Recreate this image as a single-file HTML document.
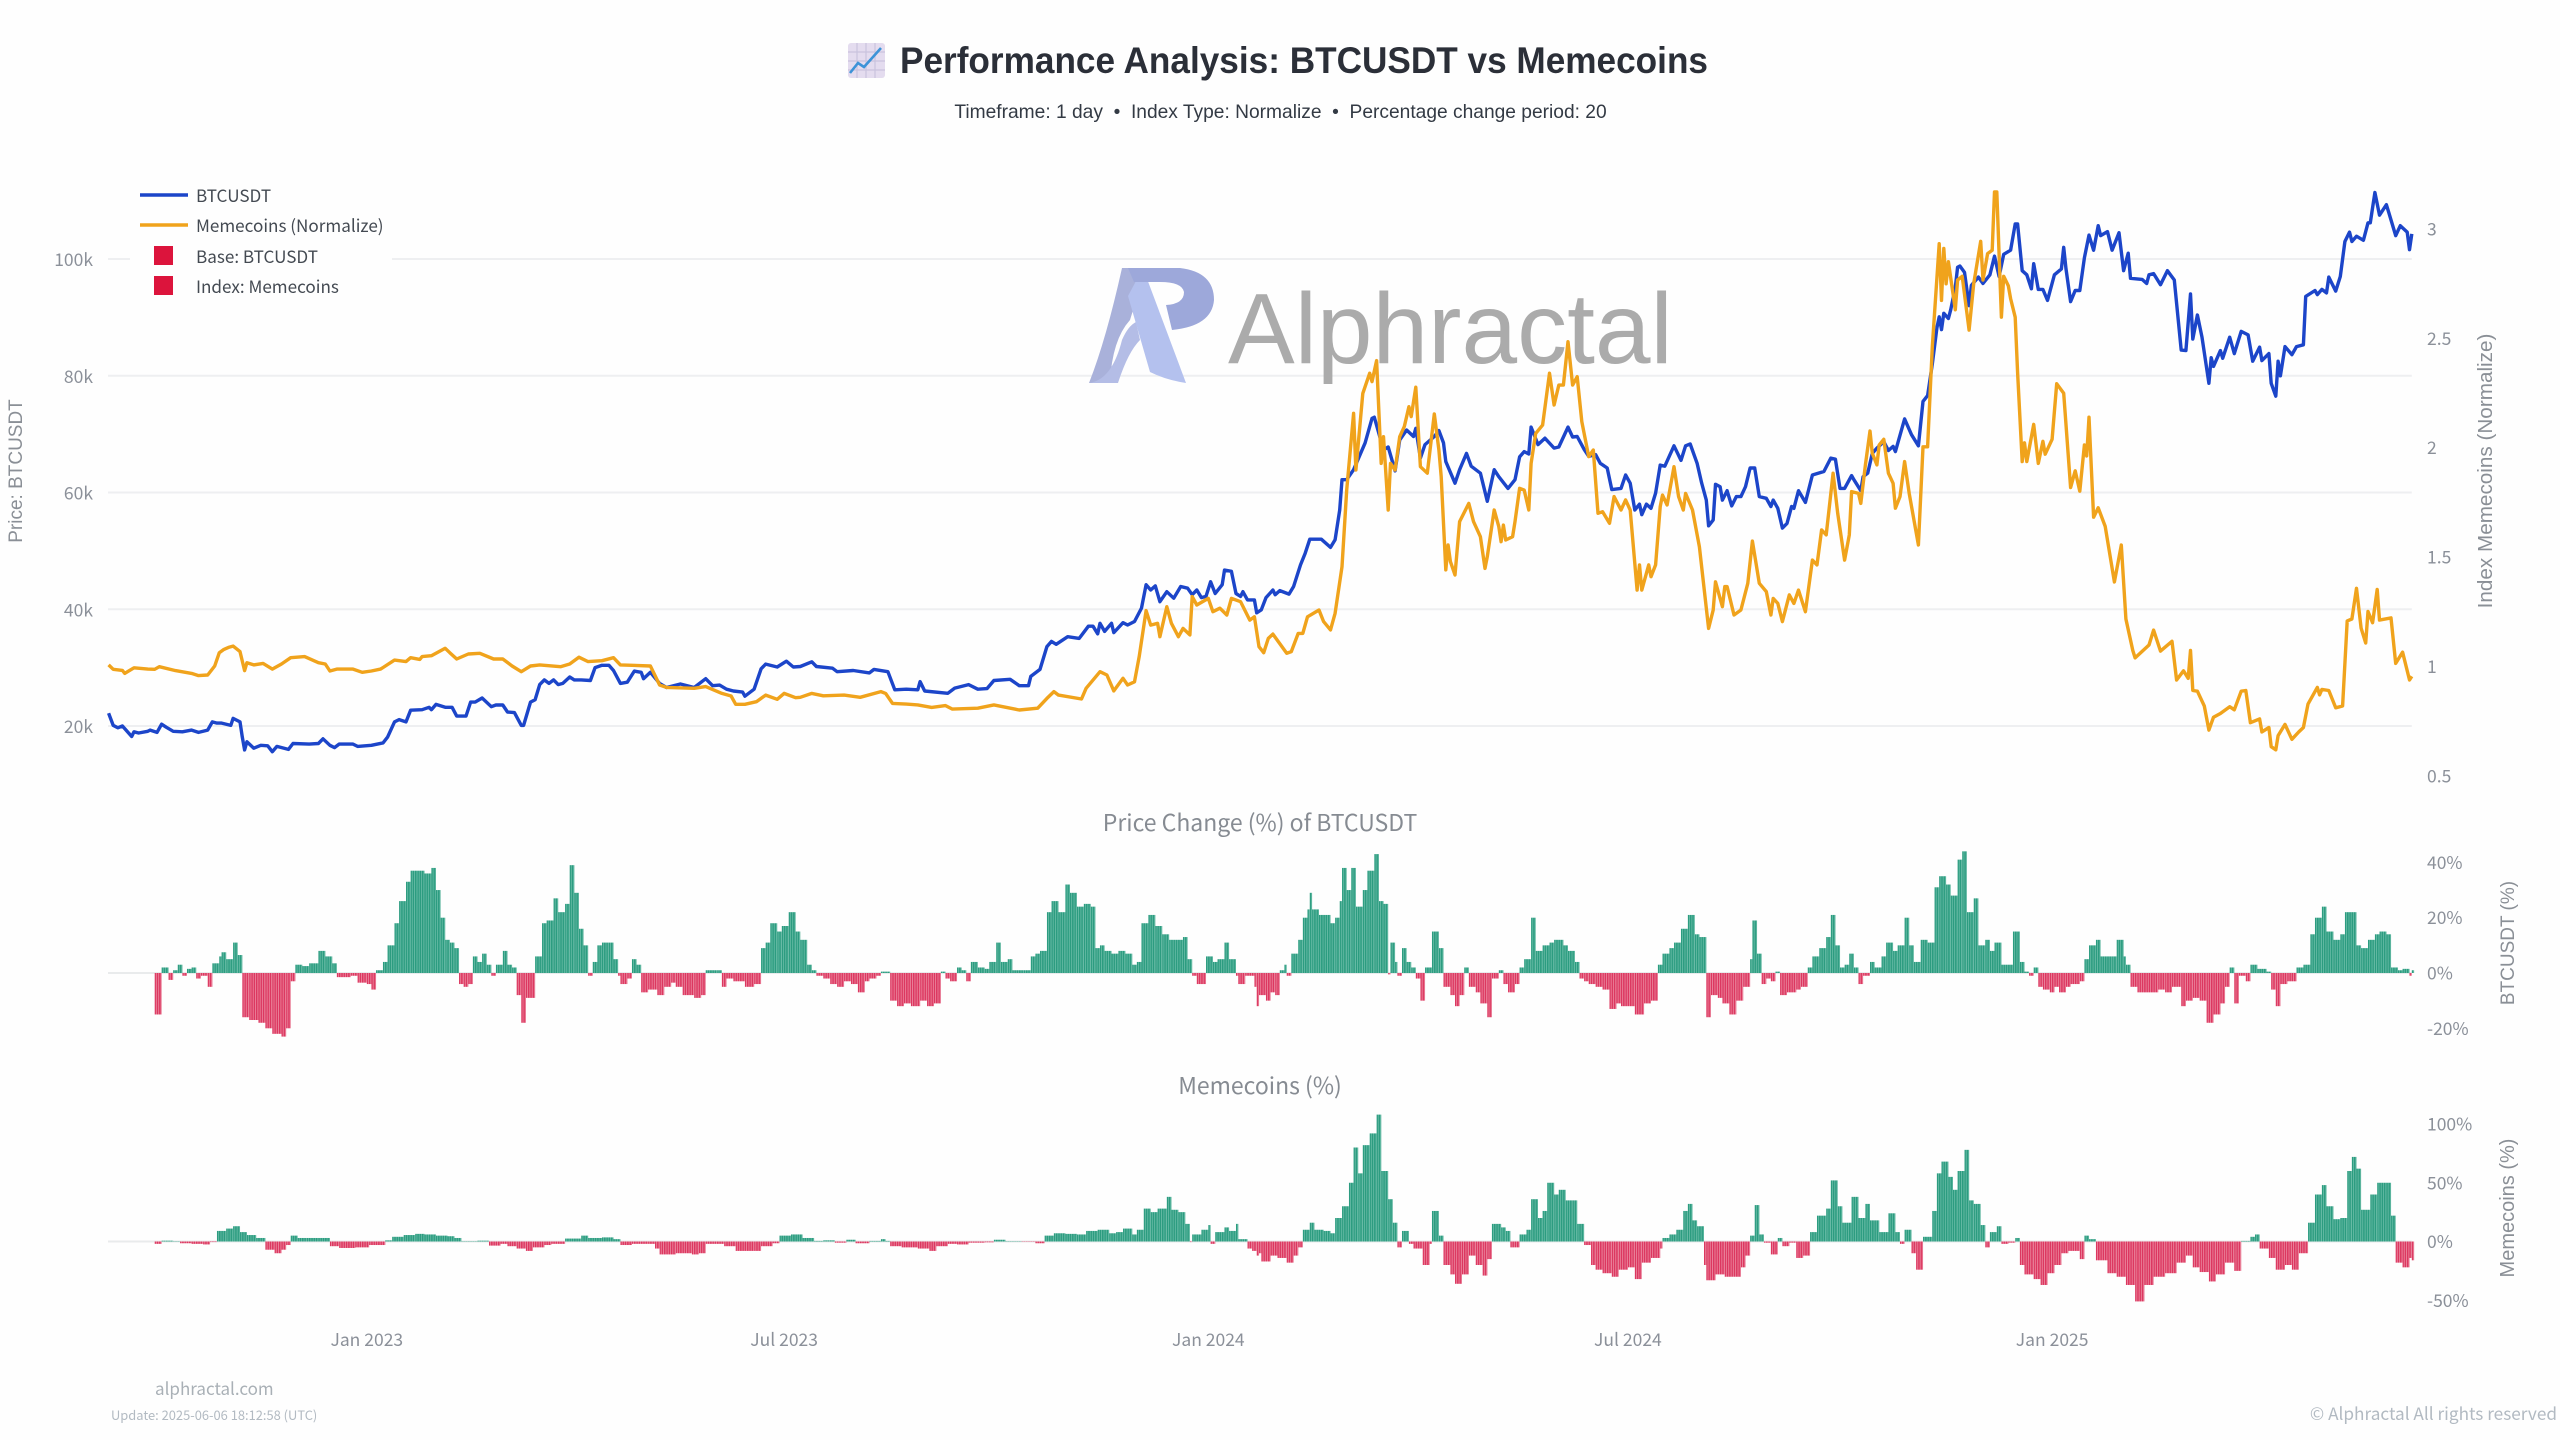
<!DOCTYPE html>
<html lang="en">
<head>
<meta charset="utf-8">
<title>Performance Analysis: BTCUSDT vs Memecoins</title>
<style>
html,body{margin:0;padding:0;background:#fefefe;width:2560px;height:1440px;overflow:hidden}
svg{display:block}
.sans{font-family:"Liberation Sans",sans-serif}
.noto{font-family:"Noto Sans CJK JP","Liberation Sans",sans-serif}
.tick{font-family:"Noto Sans CJK JP","Liberation Sans",sans-serif;font-size:17.5px;fill:#8b9099}
</style>
</head>
<body>
<svg id="chart" width="2560" height="1440" viewBox="0 0 2560 1440" xmlns="http://www.w3.org/2000/svg">
<defs>
<pattern id="green-stripes" patternUnits="userSpaceOnUse" width="2.3055" height="10"><rect width="2.3055" height="10" fill="#74c2ae"/><rect width="1.6" height="10" fill="#2c9c80"/></pattern>
<pattern id="red-stripes" patternUnits="userSpaceOnUse" width="2.3055" height="10"><rect width="2.3055" height="10" fill="#ee98ab"/><rect width="1.6" height="10" fill="#dc3760"/></pattern>
</defs>
<rect width="2560" height="1440" fill="#fefefe"/>

<g id="grid"></g>

<g>
<path d="M1122 268 L1146 268 L1130 320 Q1112 340 1110 383 L1089 383 Q1106 340 1122 268 Z" fill="#a9b1da"/>
<path d="M1089 383 Q1112 380 1122 340 Q1128 326 1136 322 L1140 340 Q1128 352 1118 383 Z" fill="#b4bde6"/>
<path d="M1143 268 L1186 383 Q1166 380 1150 372 L1128 296 Z" fill="#b4c1ee"/>
<path d="M1128 268 L1180 268 Q1214 272 1214 300 Q1212 326 1172 330 L1166 305 Q1184 304 1184 292 Q1182 282 1160 282 L1134 282 Z" fill="#9da8da"/>
<text class="sans" x="1228" y="363" font-size="100" fill="#ababab">Alphractal</text>
</g>

<rect x="130" y="180" width="262" height="122" fill="#fefefe"/>

<g id="price-plot"></g>
<g id="btc-change-plot"></g>
<g id="meme-change-plot"></g>
<g id="axis-labels"></g>

<g>
<rect x="848" y="43" width="37" height="35" rx="3" fill="#e4dcef"/>
<path d="M848 52H885M848 61H885M848 70H885M857 43V78M866 43V78M875 43V78" stroke="#c9c3de" stroke-width="1.2" fill="none"/>
<path d="M850 73 L858 63 L864 67 L881 48" stroke="#3d93d8" stroke-width="2.6" fill="none"/>
</g>
<text class="sans" x="900" y="73" font-size="37" font-weight="700" fill="#2b2f38" textLength="808" lengthAdjust="spacingAndGlyphs">Performance Analysis: BTCUSDT vs Memecoins</text>
<text class="sans" x="1280.5" y="118" font-size="19.2" fill="#333a44" text-anchor="middle">Timeframe: 1 day &#160;•&#160; Index Type: Normalize &#160;•&#160; Percentage change period: 20</text>

<g>
<g>
<line x1="140" x2="188" y1="195" y2="195" stroke="#1c45c9" stroke-width="3.4"/>
<text class="noto" x="196" y="202" font-size="17.1" fill="#444a52">BTCUSDT</text>
</g>
<g>
<line x1="140" x2="188" y1="225" y2="225" stroke="#f0a31c" stroke-width="3.4"/>
<text class="noto" x="196" y="232" font-size="17.1" fill="#444a52">Memecoins (Normalize)</text>
</g>
<g>
<rect x="154" y="246" width="19" height="19" fill="#dc143c"/>
<text class="noto" x="196" y="263" font-size="17.1" fill="#444a52">Base: BTCUSDT</text>
</g>
<g>
<rect x="154" y="276" width="19" height="19" fill="#dc143c"/>
<text class="noto" x="196" y="293" font-size="17.1" fill="#444a52">Index: Memecoins</text>
</g>
</g>

<text class="sans" transform="translate(22,471) rotate(-90)" font-size="19" fill="#8a8f96" text-anchor="middle">Price: BTCUSDT</text>
<text class="sans" transform="translate(2492,471) rotate(-90)" font-size="20.7" fill="#8a8f96" text-anchor="middle">Index Memecoins (Normalize)</text>
<text class="sans" transform="translate(2514,943) rotate(-90)" font-size="19" fill="#8a8f96" text-anchor="middle">BTCUSDT (%)</text>
<text class="sans" transform="translate(2514,1208) rotate(-90)" font-size="20" fill="#8a8f96" text-anchor="middle">Memecoins (%)</text>

<text class="noto" x="1260" y="831" font-size="23" fill="#868b92" text-anchor="middle">Price Change (%) of BTCUSDT</text>
<text class="noto" x="1260" y="1094" font-size="23" fill="#868b92" text-anchor="middle">Memecoins (%)</text>

<text class="noto" x="155" y="1395" font-size="17" fill="#a9b0b6">alphractal.com</text>
<text class="noto" x="111" y="1420" font-size="12.9" fill="#b2bac2">Update: 2025-06-06 18:12:58 (UTC)</text>
<text class="noto" x="2557" y="1420" font-size="17.2" fill="#b2bac2" text-anchor="end">© Alphractal All rights reserved</text>
</svg>

<script>
// ---- chart data: [day since start, value] ----
const xTickLabels=["Jan 2023","Jul 2023","Jan 2024","Jul 2024","Jan 2025"];
const xTickDays=[112,293,477,659,843];
const priceTicks=[20,40,60,80,100];
const indexTicks=[0.5,1,1.5,2,2.5,3];
const indexTickLabels=["0.5","1","1.5","2","2.5","3"];
const btcPctTicks=[-20,0,20,40];
const memePctTicks=[-50,0,50,100];

const btcPrice=[[0,22.2],[2,20.1],[4,19.7],[6,20],[10,18.2],[11,19],[13,18.8],[17,19.1],[18,19.3],[21,18.9],[23,20.3],[25,19.8],[28,19.1],[32,19],[36,19.3],[39,18.9],[43,19.3],[45,20.7],[47,20.5],[49,20.5],[53,20.1],[54,21.3],[57,20.7],[58,18.1],[59,15.9],[60,17.3],[63,16.2],[66,16.7],[69,16.6],[71,15.6],[73,16.5],[78,16],[80,17],[87,16.9],[91,17],[93,17.8],[96,16.7],[98,16.3],[100,16.9],[106,16.9],[108,16.5],[114,16.7],[119,17.1],[121,18.1],[124,20.7],[126,21.1],[129,20.7],[131,22.7],[136,22.8],[139,23.2],[140,22.8],[142,23.7],[146,23.2],[149,23.2],[151,21.7],[155,21.7],[157,24.1],[159,24.1],[162,24.8],[166,23.3],[168,23.6],[171,23.6],[173,22.4],[176,22.3],[179,20.1],[180,20.1],[183,24.1],[185,24.5],[187,27.1],[189,27.9],[191,27.3],[193,27.9],[195,27.1],[197,27.3],[200,28.4],[202,27.9],[205,27.9],[209,27.8],[211,30],[214,30.4],[217,30.4],[219,29.5],[222,27.3],[225,27.5],[228,29.4],[231,29.2],[232,28.1],[235,29.2],[239,27.3],[242,26.6],[248,27.2],[254,26.6],[259,28.1],[262,26.9],[265,27],[268,26.3],[271,26],[275,25.8],[276,25.1],[280,26.3],[283,29.8],[285,30.6],[290,30.1],[294,31.1],[297,30.1],[300,30.2],[305,31],[307,30.2],[314,29.9],[316,29.3],[323,29.5],[330,29.1],[332,29.7],[338,29.3],[341,26.2],[346,26.3],[351,26.2],[352,27.6],[354,26],[364,25.6],[367,26.5],[373,27.1],[377,26.3],[381,26.4],[384,27.8],[391,28],[395,26.9],[399,26.9],[400,28.5],[404,29.7],[407,33.6],[409,34.5],[411,34],[416,35.3],[421,35],[425,37.1],[427,37.1],[429,35.8],[430,37.6],[432,36.2],[435,37.6],[436,36],[440,37.7],[442,37.3],[445,37.9],[448,40.2],[450,44.2],[452,43.3],[454,44],[456,41.3],[459,43],[462,41.9],[465,43.9],[468,43.6],[470,42.5],[472,43.3],[474,42],[476,42.2],[478,44.7],[480,42.7],[483,44.2],[484,46.7],[487,46.5],[489,42.7],[491,42.2],[492,43],[494,41.6],[497,41.6],[498,39.4],[500,39.9],[502,42],[505,43.3],[506,42.5],[508,43.2],[512,42.6],[514,43.9],[517,47.6],[519,49.6],[521,52],[526,52],[530,50.6],[532,51.9],[534,57],[535,62.2],[537,62.2],[540,63.9],[545,68.5],[548,72.7],[549,72.9],[553,67.3],[555,67.8],[558,63.7],[560,69],[563,70.7],[566,69.6],[567,71],[569,65.9],[571,68.2],[575,69.6],[577,70.6],[579,68.5],[580,65.3],[584,61.6],[586,63.9],[589,66.7],[591,64.5],[595,63.3],[598,58.5],[601,63.9],[603,62.7],[607,60.7],[610,62.2],[612,66.1],[614,67],[616,66.6],[617,71.2],[620,68.2],[623,69.3],[627,67.6],[629,67.8],[633,71.2],[635,69.5],[637,69.6],[640,67.4],[642,66.2],[645,66.5],[647,65],[650,64.2],[652,60.5],[656,60.7],[658,63],[660,61.6],[662,57],[664,58],[665,56.2],[667,58],[669,57.3],[671,59.9],[673,64.7],[675,64.5],[679,68],[682,65.5],[684,68],[686,68.3],[689,65],[691,61.6],[693,58.7],[694,54.3],[696,55.3],[697,61.4],[699,61],[700,58.7],[702,60.3],[704,57.7],[706,59.3],[708,59.3],[710,61],[712,64.2],[714,64.2],[716,59.3],[719,59],[721,57.6],[722,58.7],[724,57.3],[726,53.9],[728,54.7],[730,57.6],[731,57.3],[733,60.3],[736,58.3],[739,63],[744,63.6],[747,65.9],[749,65.7],[751,60.7],[753,60.7],[756,62.9],[757,62.2],[760,60.3],[761,62.7],[763,63.3],[765,66.7],[767,67.6],[770,68.7],[772,67.2],[774,67.9],[775,67],[779,72.6],[782,69.9],[785,68],[787,75.6],[789,76.6],[791,82],[793,88.2],[794,90.1],[795,87.9],[796,90.7],[798,89.8],[799,91.3],[801,95.1],[802,98.6],[803,98.8],[805,97.7],[807,92],[808,95.5],[811,96.9],[813,95.8],[816,97.3],[818,100.5],[820,97],[822,100.8],[825,101.5],[827,106],[828,106],[830,98],[832,97.3],[834,94.9],[835,99.2],[837,94.8],[839,94.8],[841,92.9],[844,97.3],[847,98.3],[848,102],[849,98.3],[851,92.7],[853,94.6],[855,94.6],[857,100.2],[859,104.1],[861,101.5],[863,105.7],[864,104],[867,104.7],[869,101.5],[872,104.5],[874,98],[876,101],[877,96.7],[882,96.5],[884,95.8],[885,97.3],[887,97.5],[890,95.6],[893,98],[896,96.4],[899,84.4],[901,84.3],[903,94],[904,86.3],[906,90.4],[908,86.6],[911,78.7],[912,83.1],[913,81.6],[916,84.3],[917,83],[920,86.6],[922,83.8],[925,87.6],[928,87],[930,82.5],[933,84.9],[934,82.6],[937,83.8],[938,78.7],[940,76.5],[941,82.5],[942,80],[944,85],[947,83.6],[949,85],[952,85.3],[953,93.6],[957,94.6],[958,93.9],[960,94.8],[962,94.2],[963,96.9],[966,94.5],[968,97],[970,103],[972,104.6],[973,103],[975,103.9],[978,103.2],[980,106.2],[981,106.2],[983,111.4],[985,107.5],[988,109.3],[989,108],[992,104],[994,105.7],[997,104.6],[998,101.6],[999,104.3]];

const memeIndex=[[0,1.005],[2,.985],[6,.98],[7,.966],[11,.992],[17,.986],[20,.985],[22,.997],[29,.979],[36,.966],[39,.956],[43,.959],[46,1],[48,1.061],[50,1.076],[52,1.085],[54,1.091],[57,1.066],[59,.979],[60,1.015],[63,1.005],[67,1.012],[71,.986],[75,1.009],[79,1.038],[85,1.043],[91,1.015],[94,1.009],[96,.977],[99,.986],[106,.986],[110,.971],[114,.977],[118,.986],[124,1.027],[129,1.02],[131,1.038],[135,1.03],[136,1.043],[140,1.047],[146,1.081],[148,1.061],[151,1.032],[156,1.055],[161,1.058],[167,1.032],[171,1.032],[175,1],[179,.974],[183,1],[187,1.005],[196,.997],[200,1.009],[204,1.04],[208,1.02],[214,1.024],[219,1.038],[222,1.005],[235,1],[239,.913],[242,.902],[254,.898],[259,.906],[266,.875],[270,.863],[272,.825],[276,.825],[281,.837],[285,.867],[290,.848],[293,.875],[298,.855],[300,.857],[305,.875],[310,.864],[319,.867],[326,.857],[335,.883],[337,.875],[340,.829],[346,.826],[351,.822],[357,.811],[363,.819],[366,.803],[377,.807],[384,.822],[395,.799],[403,.807],[407,.852],[410,.883],[412,.867],[422,.849],[424,.898],[430,.974],[433,.959],[436,.886],[440,.944],[442,.913],[445,.928],[447,1.043],[450,1.253],[452,1.187],[455,1.195],[456,1.134],[459,1.271],[461,1.195],[464,1.134],[466,1.172],[469,1.142],[470,1.317],[472,1.279],[477,1.309],[479,1.248],[482,1.264],[485,1.233],[487,1.309],[491,1.294],[495,1.21],[497,1.225],[499,1.088],[501,1.061],[503,1.126],[505,1.146],[511,1.058],[513,1.066],[516,1.149],[518,1.149],[520,1.225],[525,1.256],[527,1.203],[530,1.165],[532,1.241],[535,1.454],[537,1.804],[540,2.155],[541,1.896],[544,2.246],[547,2.338],[548,2.3],[550,2.396],[552,1.926],[553,2.048],[555,1.713],[556,1.926],[558,1.896],[560,2.048],[562,2.094],[564,2.185],[565,2.14],[567,2.274],[569,1.911],[572,1.881],[575,2.152],[577,1.987],[578,1.865],[580,1.439],[581,1.553],[582,1.477],[584,1.416],[586,1.66],[590,1.743],[592,1.66],[595,1.591],[597,1.446],[598,1.5],[601,1.713],[603,1.637],[604,1.568],[605,1.644],[606,1.576],[609,1.591],[610,1.66],[612,1.812],[614,1.804],[616,1.713],[617,1.926],[619,2.063],[622,2.101],[625,2.338],[627,2.193],[629,2.284],[631,2.284],[633,2.482],[635,2.284],[637,2.322],[639,2.117],[642,1.957],[644,1.987],[646,1.698],[648,1.705],[651,1.652],[653,1.774],[656,1.713],[658,1.759],[660,1.713],[663,1.347],[664,1.462],[665,1.347],[668,1.462],[669,1.408],[671,1.462],[673,1.728],[674,1.781],[676,1.736],[679,1.911],[681,1.774],[683,1.713],[684,1.789],[687,1.713],[690,1.545],[694,1.172],[696,1.256],[697,1.385],[700,1.271],[701,1.363],[702,1.363],[705,1.233],[708,1.256],[711,1.378],[713,1.571],[716,1.378],[719,1.34],[721,1.233],[722,1.309],[724,1.286],[726,1.203],[729,1.325],[731,1.286],[733,1.347],[736,1.248],[739,1.484],[741,1.462],[743,1.622],[745,1.599],[748,1.881],[750,1.698],[753,1.484],[755,1.599],[756,1.797],[759,1.789],[760,1.743],[762,1.919],[764,2.074],[765,1.972],[767,1.919],[768,2.01],[770,2.036],[772,1.881],[774,1.835],[775,1.721],[777,1.774],[779,1.934],[781,1.789],[785,1.553],[787,2.002],[789,2.002],[791,2.459],[794,2.93],[795,2.671],[796,2.908],[797,2.747],[798,2.848],[801,2.628],[802,2.764],[804,2.781],[807,2.535],[809,2.747],[812,2.941],[813,2.764],[815,2.885],[817,2.9],[818,3.167],[819,3.167],[821,2.594],[822,2.781],[824,2.738],[825,2.679],[827,2.594],[828,2.341],[830,1.934],[831,2.02],[832,1.934],[835,2.104],[837,1.926],[839,2.027],[840,1.968],[843,2.036],[845,2.29],[848,2.247],[851,1.816],[853,1.892],[855,1.799],[857,2.01],[858,1.96],[859,2.137],[861,1.68],[863,1.723],[866,1.638],[870,1.384],[873,1.553],[875,1.215],[878,1.071],[879,1.037],[885,1.096],[887,1.164],[890,1.068],[895,1.113],[897,.936],[900,.978],[902,.944],[903,1.071],[904,.888],[906,.885],[909,.817],[911,.707],[913,.766],[916,.783],[920,.814],[922,.8],[925,.885],[927,.888],[929,.741],[933,.758],[934,.699],[937,.719],[938,.631],[940,.617],[941,.682],[944,.733],[947,.665],[950,.699],[952,.719],[954,.826],[958,.902],[959,.868],[960,.893],[963,.888],[966,.809],[969,.817],[971,1.206],[973,1.215],[975,1.355],[977,1.173],[979,1.105],[980,1.249],[982,1.198],[984,1.35],[985,1.21],[990,1.22],[992,1.012],[995,1.063],[998,.936],[999,.953]];

const btcChange=[[20,-15],[23,2],[26,-2.5],[28,1],[30,3],[32,-1],[34,1.5],[36,2],[38,-2],[40,-1],[43,-5],[45,3.5],[48,6],[49,7.5],[51,5],[54,11],[56,6.5],[58,-16],[61,-17],[65,-18],[68,-20],[71,-22],[75,-23],[77,-20],[79,-3],[81,3],[84,2.5],[87,3.5],[91,8],[94,6],[97,3.5],[99,-1.5],[105,-1],[108,-3.5],[112,-4],[114,-6],[116,1],[119,4],[121,10],[124,18],[126,26],[129,33],[131,37],[134,37],[137,36],[140,38],[142,30],[144,20],[146,12],[148,11],[150,9],[152,-4],[154,-5],[156,-4],[158,6],[160,4],[162,7],[164,3],[166,-1],[168,3],[171,8],[173,3],[175,2],[177,-8],[179,-18],[181,-9],[185,6],[188,18],[190,19],[193,27],[195,22],[198,25],[200,39],[202,29],[204,16],[206,10],[208,-1],[210,4],[212,10],[214,11],[217,11],[219,5],[221,-1],[222,-4],[225,-2],[227,5],[229,3],[231,-7],[234,-6],[238,-8],[241,-5],[244,-3.5],[246,-5],[249,-8],[254,-9],[257,-8],[259,1],[264,1],[266,-5],[268,-2],[271,-3],[276,-5],[280,-4],[283,9],[285,11],[287,18],[290,15],[292,17],[295,22],[298,15],[300,12],[303,3],[305,1],[307,-1],[310,-2],[313,-4],[316,-5],[319,-3],[322,-4],[325,-7],[328,-3],[330,-2],[333,-1],[335,.5],[339,-10],[342,-12],[345,-11],[348,-12],[352,-10],[355,-12],[358,-11],[361,.5],[363,-2],[365,-3],[368,2],[370,1],[372,-3],[374,4],[377,2],[380,1.5],[382,4],[385,11],[387,4],[390,5],[392,1],[397,1],[400,6],[402,7],[404,8],[407,22],[409,26],[412,22],[415,32],[417,29],[420,24],[423,25],[426,24],[428,9],[430,10],[432,8],[435,7],[438,8],[441,7],[444,3],[446,4],[448,18],[451,21],[454,17],[457,14],[460,12],[466,13],[468,5],[470,-1],[472,-4],[476,6],[479,4],[481,5],[484,11],[486,5],[489,-1],[490,-4],[493,-1],[497,-5],[498,-12],[499,-8],[502,-10],[504,-7],[506,-8],[508,1],[510,3],[511,-1],[513,7],[516,12],[518,20],[520,23],[521,29],[522,23],[525,21],[530,18],[532,20],[534,26],[535,38],[537,30],[539,38],[541,24],[544,30],[546,37],[549,43],[551,26],[553,25],[555,-.5],[556,11],[558,4],[559,-1],[561,9],[563,4],[565,2],[567,-2],[569,-10],[571,2],[574,15],[577,9],[579,-5],[582,-8],[584,-12],[586,-8],[588,2],[590,-5],[593,-7],[595,-11],[598,-16],[600,-2],[603,1],[605,-4],[607,-7],[610,-4],[612,2],[614,5],[617,20],[619,8],[622,10],[625,11],[627,12],[631,10],[633,8],[636,4],[638,-2],[640,-3],[642,-4],[645,-5],[648,-6],[651,-13],[654,-11],[656,-12],[662,-15],[666,-11],[669,-10],[672,3],[674,7],[677,9],[679,11],[682,16],[685,21],[688,14],[690,13],[693,-16],[695,-8],[698,-9],[700,-11],[703,-15],[706,-10],[709,-5],[712,5],[713,19],[715,7],[717,-4],[719,-2],[721,-3],[723,.5],[725,-8],[728,-7],[732,-6],[734,-5],[737,2],[739,6],[742,9],[745,13],[747,21],[749,10],[751,2],[753,3],[755,7],[757,2],[759,-4],[761,-1],[764,4],[766,2],[769,6],[771,11],[774,8],[776,10],[779,20],[781,10],[783,4],[786,12],[789,11],[792,31],[794,35],[797,32],[799,28],[802,41],[804,44],[806,22],[809,27],[811,10],[814,12],[816,8],[818,11],[821,3],[826,15],[829,4],[831,.5],[833,-1],[835,2],[837,-5],[839,-6],[842,-7],[844,-5],[846,-7],[849,-5],[851,-4],[855,-3],[857,5],[859,10],[862,12],[864,6],[869,6],[871,12],[874,6],[875,3],[877,-5],[880,-7],[889,-6],[892,-7],[895,-5],[899,-12],[901,-10],[904,-9],[907,-10],[910,-18],[913,-15],[916,-11],[918,-5],[920,2],[922,-11],[924,-1],[927,-3],[929,3],[932,1.5],[936,.5],[938,-6],[940,-12],[942,-4],[945,-3],[949,2],[952,3],[955,14],[957,20],[960,24],[962,15],[965,12],[968,14],[970,22],[975,10],[977,9],[980,12],[983,14],[985,15],[988,14],[990,2],[993,1],[995,1.5],[998,-1],[999,1]];

const memeChange=[[20,-2],[23,.7],[28,.3],[31,-1.5],[36,-2],[41,-2.5],[44,-.5],[47,9],[51,11],[54,13],[57,8],[60,5.5],[64,3],[68,-7],[72,-10],[75,-7],[77,-3],[79,5],[82,3],[86,3],[91,3],[96,-4],[100,-5.5],[107,-5],[113,-3],[120,1],[123,4],[128,5.5],[133,6.5],[137,6],[142,5],[147,4.5],[150,3],[153,.3],[160,.7],[165,-3.5],[170,-2],[173,-4],[177,-6],[181,-8],[184,-5],[189,-3],[192,-2],[198,2.5],[205,5],[208,3],[214,3.5],[219,2],[222,-3],[227,-2],[234,-2],[237,-6],[239,-11],[246,-10],[253,-11],[256,-10],[259,-2],[267,-4],[272,-8],[280,-8],[283,-4],[288,-1.5],[291,5],[296,6],[301,3],[306,.5],[310,1],[315,-1],[320,1.5],[324,-1.5],[330,.5],[335,2],[337,.5],[339,-4],[344,-5],[351,-6],[356,-8],[359,-4],[364,-2],[368,-2.5],[373,-1],[380,-.7],[384,1.5],[389,.3],[396,-.3],[402,-1.5],[406,5],[410,7],[415,6.5],[420,6],[424,9],[429,10],[434,7],[437,8],[440,11],[444,6],[446,10],[449,28],[452,25],[455,28],[459,38],[461,27],[464,25],[467,15],[469,-.5],[470,6],[474,10],[477,14],[478,-2],[480,8],[484,12],[486,9],[489,15],[490,2],[494,-6],[496,-8],[498,-12],[499,-10],[500,-17],[504,-12],[507,-14],[511,-18],[514,-12],[516,-5],[518,10],[521,16],[523,10],[527,9],[530,7],[532,20],[535,30],[538,50],[540,80],[542,58],[544,82],[547,92],[550,108],[552,60],[555,36],[557,16],[559,-5],[561,9],[564,-2],[566,-6],[570,-20],[573,-2],[574,26],[577,5],[579,-20],[582,-28],[584,-36],[587,-28],[590,-12],[593,-20],[596,-29],[598,-15],[600,15],[604,12],[606,9],[608,-5],[610,-5],[612,6],[615,10],[617,36],[620,20],[622,26],[624,50],[627,40],[629,44],[632,35],[635,35],[637,15],[640,-3],[643,-20],[645,-24],[648,-27],[652,-30],[655,-24],[659,-22],[662,-32],[665,-18],[669,-14],[673,-6],[674,3],[677,6],[680,10],[683,26],[685,32],[687,18],[689,13],[692,-20],[693,-33],[697,-28],[701,-30],[705,-30],[708,-22],[710,-12],[712,5],[714,31],[716,6],[718,-1],[721,-11],[724,3],[726,-4],[729,-1],[732,-14],[735,-12],[738,8],[741,22],[745,28],[747,52],[750,30],[752,16],[756,38],[759,20],[762,32],[764,18],[768,8],[772,24],[775,8],[777,-2],[779,10],[782,-10],[784,-24],[787,4],[791,26],[793,58],[795,68],[798,55],[800,44],[802,60],[805,78],[807,35],[809,32],[812,14],[814,-5],[816,8],[819,13],[821,-2],[824,-1],[827,3],[829,-20],[831,-28],[835,-32],[838,-37],[841,-27],[844,-20],[847,-10],[850,-8],[855,-15],[857,5],[859,2],[862,-16],[867,-27],[871,-30],[875,-37],[879,-51],[883,-37],[887,-30],[892,-27],[897,-18],[901,-12],[904,-22],[907,-26],[911,-34],[914,-28],[918,-18],[922,-25],[925,.5],[929,4],[931,6],[933,-6],[937,-14],[940,-24],[944,-20],[947,-24],[950,-10],[954,16],[957,40],[960,48],[962,30],[965,19],[968,20],[971,60],[973,72],[975,62],[977,27],[981,40],[984,50],[988,50],[990,22],[992,-18],[995,-22],[998,-14],[999,-16]];

// ---- axis functions ----
const NS='http://www.w3.org/2000/svg';
const xOf=d=>108.6+d*2.3055;
const yPrice=k=>726-(k-20)*5.8375;
const yIndex=v=>666-(v-1)*218.8;
const yBtcPct=p=>973-p*2.765;
const yMemePct=p=>1241.5-p*1.175;
const X_END=xOf(999);

function make(tag,attrs,parent){
  const el=document.createElementNS(NS,tag);
  for(const k in attrs) el.setAttribute(k,attrs[k]);
  parent.appendChild(el);
  return el;
}

const grid=document.getElementById('grid');
const labels=document.getElementById('axis-labels');
const pricePlot=document.getElementById('price-plot');
const btcPlot=document.getElementById('btc-change-plot');
const memePlot=document.getElementById('meme-change-plot');

priceTicks.forEach(t=>{
  const ln=make('line',{x1:108,x2:X_END,y1:yPrice(t),y2:yPrice(t),stroke:'#eeeff1','stroke-width':2},grid);
  
  
  const tx=make('text',{x:93,y:yPrice(t)+7,'text-anchor':'end',class:'tick'},labels);
  
  
  tx.textContent=t+'k';
});
indexTicks.forEach((t,i)=>{
  const tx=make('text',{x:2427,y:yIndex(t)+7,class:'tick'},labels);
  
  
  tx.textContent=indexTickLabels[i];
});
btcPctTicks.forEach(t=>{
  const tx=make('text',{x:2427,y:yBtcPct(t)+6.5,class:'tick'},labels);
  
  
  tx.textContent=t+'%';
});
memePctTicks.forEach(t=>{
  const tx=make('text',{x:2427,y:yMemePct(t)+6.5,class:'tick'},labels);
  
  
  tx.textContent=t+'%';
});
xTickDays.forEach((d,i)=>{
  const tx=make('text',{x:xOf(d),y:1346,'text-anchor':'middle',class:'tick'},labels);
  
  
  tx.textContent=xTickLabels[i];
});

function drawLine(series,yFn,color,parent){
  const pts=series.map(p=>xOf(p[0]).toFixed(1)+','+yFn(p[1]).toFixed(1)).join(' ');
  const el=make('polyline',{points:pts,fill:'none',stroke:color,'stroke-width':3.4,'stroke-linejoin':'round'},parent);
  return el;
}
const btcLineEl=drawLine(btcPrice,yPrice,'#1c45c9',pricePlot);


const memeLineEl=drawLine(memeIndex,yIndex,'#f0a31c',pricePlot);



function zeroLine(y,parent){
  return make('line',{x1:108,x2:X_END,y1:y,y2:y,stroke:'#e9ebec','stroke-width':2},parent);
}
const z1=zeroLine(yBtcPct(0),btcPlot);


const z2=zeroLine(yMemePct(0),memePlot);



btcChange.forEach((p,i)=>{
  const next=i+1<btcChange.length?btcChange[i+1][0]:p[0]+1;
  const y0=yBtcPct(0),y1=yBtcPct(p[1]);
  const r=make('rect',{x:xOf(p[0]),width:xOf(next)-xOf(p[0]),y:Math.min(y0,y1),height:Math.abs(y1-y0),fill:p[1]>=0?'url(#green-stripes)':'url(#red-stripes)'},btcPlot);
  
  
});
memeChange.forEach((p,i)=>{
  const next=i+1<memeChange.length?memeChange[i+1][0]:p[0]+1;
  const y0=yMemePct(0),y1=yMemePct(p[1]);
  const r=make('rect',{x:xOf(p[0]),width:xOf(next)-xOf(p[0]),y:Math.min(y0,y1),height:Math.abs(y1-y0),fill:p[1]>=0?'url(#green-stripes)':'url(#red-stripes)'},memePlot);
  
  
});
</script>
</body>
</html>
